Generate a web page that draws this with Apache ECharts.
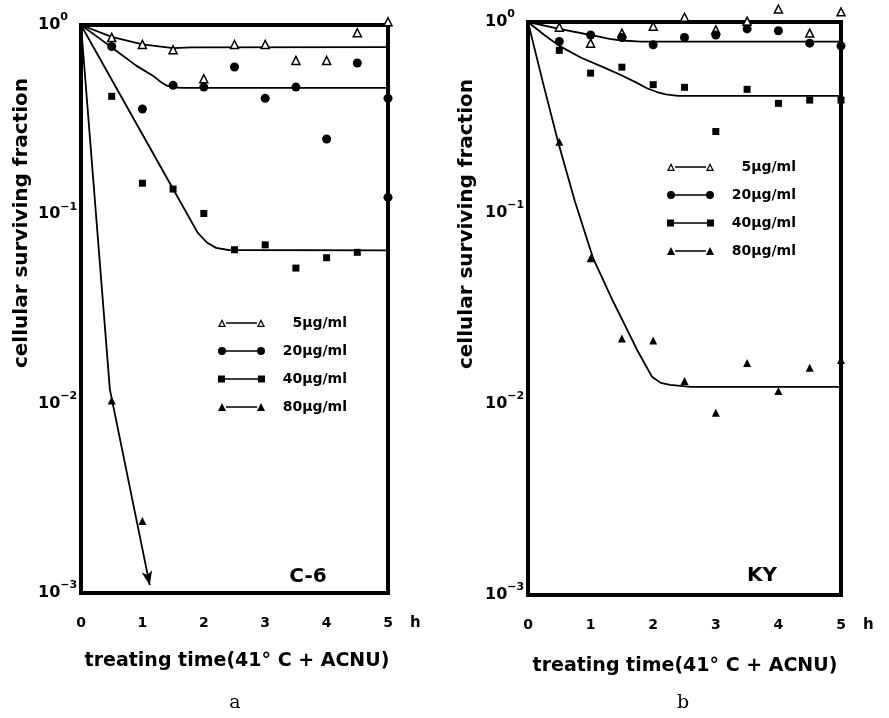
<!DOCTYPE html>
<html>
<head>
<meta charset="utf-8">
<script src="https://cdn.jsdelivr.net/npm/echarts@6/dist/echarts.min.js"></script>
<style>
  html, body { margin: 0; padding: 0; background: #fff; }
  #chart { width: 889px; height: 718px; }
</style>
</head>
<body>
<div id="chart"></div>
<script>
// treating time, hours
var hours = [0.5, 1, 1.5, 2, 2.5, 3, 3.5, 4, 4.5, 5];
var doses = ['5μg/ml', '20μg/ml', '40μg/ml', '80μg/ml'];

// panel a : C-6, measured surviving fractions
var c6_5 = [0.86, 0.79, 0.74, 0.52, 0.79, 0.79, 0.65, 0.65, 0.91, 1.04];
var c6_20 = [0.77, 0.36, 0.48, 0.47, 0.60, 0.41, 0.47, 0.25, 0.63, 0.41];
var c6_20extra = [[5, 0.123]];
var c6_40 = [0.42, 0.146, 0.136, 0.101, 0.065, 0.069, 0.052, 0.059, 0.063];
var c6_80 = [0.0104, 0.0024];

// panel a : fitted curves
var c6_fit5 = [[0, 1], [0.5, 0.865], [1, 0.79], [1.5, 0.755], [1.8, 0.762], [5, 0.765]];
var c6_fit20 = [[0, 1], [0.3, 0.85], [0.6, 0.72], [0.9, 0.61], [1.17, 0.54], [1.3, 0.50], [1.4, 0.478], [1.5, 0.468], [1.65, 0.465], [5, 0.465]];
var c6_fit40 = [[0, 1], [1.5, 0.136], [1.9, 0.08], [2.05, 0.071], [2.2, 0.0665], [2.4, 0.0648], [5, 0.0645]];
var c6_fit80 = [[0, 1], [0.47, 0.0119], [1.12, 0.0011]];

// panel b : KY, measured surviving fractions
var ky_5 = [0.94, 0.775, 0.875, 0.95, 1.06, 0.91, 1.01, 1.17, 0.875, 1.13];
var ky_20 = [0.79, 0.855, 0.83, 0.76, 0.83, 0.855, 0.92, 0.90, 0.775, 0.75];
var ky_40 = [0.71, 0.54, 0.58, 0.47, 0.455, 0.267, 0.444, 0.375, 0.39, 0.39];
var ky_80 = [0.236, 0.058, 0.022, 0.0215, 0.0132, 0.0090, 0.0164, 0.0117, 0.0155, 0.017];

// panel b : fitted curves
var ky_fit5 = [[0, 1], [5, 1]];
var ky_fit20 = [[0, 1], [0.5, 0.92], [1, 0.855], [1.3, 0.815], [1.5, 0.80], [1.8, 0.79], [5, 0.79]];
var ky_fit40 = [[0, 1], [0.25, 0.86], [0.5, 0.75], [0.85, 0.65], [1.2, 0.58], [1.5, 0.525], [1.74, 0.48], [1.9, 0.45], [2.06, 0.43], [2.2, 0.418], [2.4, 0.41], [5, 0.41]];
var ky_fit80 = [[0, 1], [0.24, 0.48], [0.48, 0.236], [0.75, 0.115], [1.04, 0.058], [1.36, 0.0344], [1.52, 0.027], [1.75, 0.019], [1.98, 0.0139], [2.12, 0.0129], [2.27, 0.0126], [2.6, 0.0123], [5, 0.0123]];

var FONT = 'DejaVu Sans';

function pairs(ts, vs) {
  return vs.map(function (v, i) { return [ts[i], v]; });
}

var marker = {
  '5μg/ml': { symbol: 'triangle', size: 8, item: { color: '#fff', borderColor: '#000', borderWidth: 1.5, opacity: 1 } },
  '20μg/ml': { symbol: 'circle', size: 9, item: { color: '#000', opacity: 1 } },
  '40μg/ml': { symbol: 'rect', size: 7, item: { color: '#000', opacity: 1 } },
  '80μg/ml': { symbol: 'triangle', size: 8, item: { color: '#000', opacity: 1 } }
};

var legendIcons = {
  '5μg/ml': 'path://M0 8L4 0L8 8ZM2 6.8L6 6.8L4 2.8ZM8 3.3L39 3.3L39 4.7L8 4.7ZM39 8L43 0L47 8ZM41 6.8L45 6.8L43 2.8Z',
  '20μg/ml': 'path://M0 4A4 4 0 1 1 8 4A4 4 0 1 1 0 4ZM8 3.3L39 3.3L39 4.7L8 4.7ZM39 4A4 4 0 1 1 47 4A4 4 0 1 1 39 4Z',
  '40μg/ml': 'path://M0 0.5L7 0.5L7 7.5L0 7.5ZM7 3.3L40 3.3L40 4.7L7 4.7ZM40 0.5L47 0.5L47 7.5L40 7.5Z',
  '80μg/ml': 'path://M0 8L4 0L8 8ZM8 3.3L39 3.3L39 4.7L8 4.7ZM39 8L43 0L47 8Z'
};

function scatter(name, data, idx) {
  var m = marker[name];
  return {
    name: name, type: 'scatter', xAxisIndex: idx, yAxisIndex: idx,
    data: data, symbol: m.symbol, symbolSize: m.size, itemStyle: m.item,
    clip: false, z: 3
  };
}

function fit(data, idx) {
  return {
    type: 'line', xAxisIndex: idx, yAxisIndex: idx, data: data,
    symbol: 'none', smooth: false,
    lineStyle: { color: '#000', width: 1.8, opacity: 1 }, clip: false, z: 2, silent: true
  };
}

function yLabel(v) {
  var e = Math.round(Math.log(v) / Math.LN10);
  return '{b|10}{s|' + (e === 0 ? '0' : '−' + (-e)) + '}';
}

function xAxis(idx) {
  return {
    type: 'value', gridIndex: idx, min: 0, max: 5, interval: 1,
    axisLine: { show: false }, axisTick: { show: false }, splitLine: { show: false },
    axisLabel: { margin: 23, color: '#000', fontFamily: FONT, fontWeight: 'bold', fontSize: 14 },
    name: 'h', nameLocation: 'end', nameGap: 22,
    nameTextStyle: { color: '#000', fontFamily: FONT, fontWeight: 'bold', fontSize: 15, verticalAlign: 'top', padding: [23, 0, 0, 0] }
  };
}

function yAxis(idx) {
  return {
    type: 'log', gridIndex: idx, logBase: 10, min: 0.001, max: 1,
    axisLine: { show: false }, axisTick: { show: false }, splitLine: { show: false },
    axisLabel: {
      margin: 43, align: 'left', formatter: yLabel, color: '#000',
      rich: {
        b: { fontFamily: FONT, fontWeight: 'bold', fontSize: 16, lineHeight: 26, color: '#000' },
        s: { fontFamily: FONT, fontWeight: 'bold', fontSize: 11, lineHeight: 12, verticalAlign: 'top', color: '#000' }
      }
    }
  };
}

function legend(left, top) {
  return {
    orient: 'vertical', left: left, top: top, padding: 0,
    itemWidth: 47, itemHeight: 8, itemGap: 14, selectedMode: false,
    itemStyle: { color: '#000', borderWidth: 0, opacity: 1 },
    data: doses.map(function (d) { return { name: d, icon: legendIcons[d] }; }),
    formatter: '{r|{name}}',
    textStyle: {
      color: '#000', fontFamily: FONT, fontWeight: 'bold', fontSize: 14,
      rich: { r: { width: 77, align: 'right', color: '#000', fontFamily: FONT, fontWeight: 'bold', fontSize: 14, lineHeight: 17 } }
    }
  };
}

function label(text, x, y, size, weight, family, rot) {
  return {
    type: 'text', x: x, y: y, rotation: rot || 0,
    style: { text: text, fill: '#000', align: 'center', verticalAlign: 'middle',
      font: (weight || 'bold') + ' ' + size + 'px "' + (family || FONT) + '"' }
  };
}

var c6_fit80data = c6_fit80.map(function (p, i) {
  if (i === c6_fit80.length - 1) {
    return { value: p, symbol: 'arrow', symbolSize: [8, 14], symbolRotate: 192 };
  }
  return p;
});

var option = {
  animation: false,
  backgroundColor: '#fff',
  grid: [
    { left: 81, top: 25, width: 307, height: 568, show: true, borderColor: '#000', borderWidth: 4 },
    { left: 528, top: 22, width: 313, height: 573, show: true, borderColor: '#000', borderWidth: 4 }
  ],
  xAxis: [xAxis(0), xAxis(1)],
  yAxis: [yAxis(0), yAxis(1)],
  legend: [legend(218, 316), legend(667, 160)],
  series: [
    scatter('5μg/ml', pairs(hours, c6_5), 0),
    scatter('20μg/ml', pairs(hours, c6_20).concat(c6_20extra), 0),
    scatter('40μg/ml', pairs(hours, c6_40), 0),
    scatter('80μg/ml', pairs(hours, c6_80), 0),
    fit(c6_fit5, 0),
    fit(c6_fit20, 0),
    fit(c6_fit40, 0),
    Object.assign(fit(c6_fit80data, 0), { showSymbol: true, itemStyle: { color: '#000', opacity: 1 } }),
    scatter('5μg/ml', pairs(hours, ky_5), 1),
    scatter('20μg/ml', pairs(hours, ky_20), 1),
    scatter('40μg/ml', pairs(hours, ky_40), 1),
    scatter('80μg/ml', pairs(hours, ky_80), 1),
    fit(ky_fit5, 1),
    fit(ky_fit20, 1),
    fit(ky_fit40, 1),
    fit(ky_fit80, 1)
  ],
  graphic: [
    label('cellular surviving fraction', 22, 223, 20, 'bold', FONT, Math.PI / 2),
    label('cellular surviving fraction', 467, 224, 20, 'bold', FONT, Math.PI / 2),
    label('treating time(41° C + ACNU)', 237, 661, 19),
    label('treating time(41° C + ACNU)', 685, 666, 19),
    label('C-6', 308, 577, 20),
    label('KY', 762, 576, 20),
    label('a', 235, 703, 19, 'normal', 'DejaVu Serif'),
    label('b', 683, 703, 19, 'normal', 'DejaVu Serif')
  ]
};

var chart = echarts.init(document.getElementById('chart'));
chart.setOption(option);
window.addEventListener('resize', function () { chart.resize(); });
</script>
</body>
</html>
